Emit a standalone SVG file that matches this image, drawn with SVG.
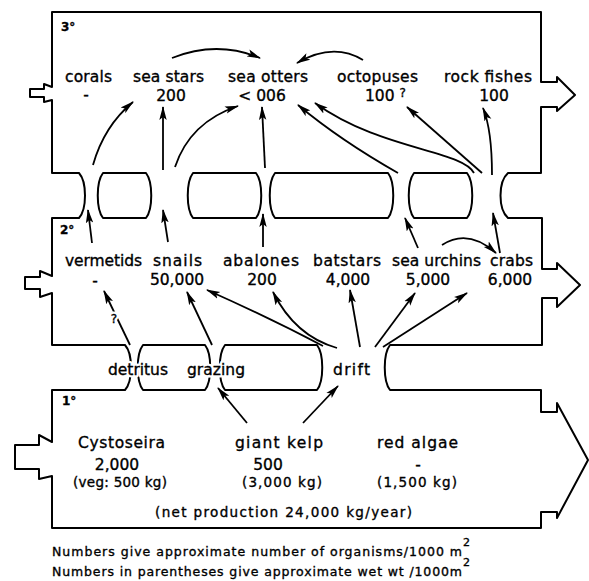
<svg xmlns="http://www.w3.org/2000/svg" width="589" height="581" viewBox="0 0 589 581">
<defs>
<marker id="ah" markerWidth="15" markerHeight="9" refX="13" refY="4.5" orient="auto" markerUnits="userSpaceOnUse">
<path d="M0,0.8 L14,4.5 L0,8.2 L3,4.5 Z" fill="#000"/>
</marker>
<style>
.o{fill:none;stroke:#000;stroke-width:2;stroke-linejoin:round}
.a{fill:none;stroke:#000;stroke-width:1.8;marker-end:url(#ah)}
text{font-family:"DejaVu Sans",sans-serif;font-size:15.5px;fill:#000;stroke:#000;stroke-width:0.35}
.m{text-anchor:middle}
.s{font-size:13.5px}
.lv{font-size:12px;font-weight:bold}
.lg{font-size:12.5px}
.h{fill:#fff;stroke:#fff;stroke-width:5;stroke-linejoin:round}
</style>
</defs>
<rect width="589" height="581" fill="#fff"/>
<g id="compartments">
<path class="o" d="M52,12 H541 V82 H557 V77 L575,95 L557,111 V107 H541 V173 H508 C498,182 498,209 508,218 H542 V269 H557 V263 L580,285 L557,307 V298 H542 V345 H390 C383,354 383,381 390,390 H541 V412 H557 V403 L588,460 L557,518 V512 H541 V528 H52 V476 L39,479 V469 H15 V445 H39 V435 L52,442 V390 H125 C133,381 133,354 125,345 H52 V293 L40,297 V289 H25 V277 H40 V271 L52,276 V218 H79 C87,209 87,182 79,173 H52 V100 L44,102 V97 H30 V89 H44 V84 L52,87 Z"/>
<path class="o" d="M103,173 H146 C153,182 153,209 146,218 H103 C96,209 96,182 103,173 Z"/>
<path class="o" d="M193,173 H256 C263,182 263,209 256,218 H193 C186,209 186,182 193,173 Z"/>
<path class="o" d="M275,173 H388 C395,182 395,209 388,218 H275 C268,209 268,182 275,173 Z"/>
<path class="o" d="M414,173 H467 C474,182 474,209 467,218 H414 C407,209 407,182 414,173 Z"/>
<path class="o" d="M143,345 H205 C212,354 212,381 205,390 H143 C136,381 136,354 143,345 Z"/>
<path class="o" d="M225,345 H317 C324,354 324,381 317,390 H225 C218,381 218,354 225,345 Z"/>
<text class="lv" x="61" y="31">3°</text>
<text class="lv" x="60" y="234">2°</text>
<text class="lv" x="62" y="405">1°</text>
</g>
<g id="connectors">
<path class="a" d="M172,58 Q217,40 260,58"/>
<path class="a" d="M363,60 Q333,42 297,63"/>
<path class="a" d="M93,165 Q104,126 133,102"/>
<path class="a" d="M163,170 L163,107"/>
<path class="a" d="M175,167 Q190,122 238,106"/>
<path class="a" d="M265,168 L262,107"/>
<path class="a" d="M398,173 Q340,140 298,105"/>
<path class="a" d="M474,173 C462,150 380,150 315,103"/>
<path class="a" d="M482,173 L407,107"/>
<path class="a" d="M492,175 Q492,130 483,108"/>
<path class="a" d="M92,243 L88,210"/>
<path class="a" d="M168,242 L163,210"/>
<path class="a" d="M263,247 L263,214"/>
<path class="a" d="M418,248 L405,218"/>
<path class="a" d="M500,253 L493,213"/>
<path class="a" d="M442,245 Q468,228 496,253"/>
<path class="a" d="M130,345 L104,291"/>
<path class="a" d="M212,345 L187,292"/>
<path class="a" d="M323,346 Q270,318 207,290"/>
<path class="a" d="M337,348 Q295,336 273,292"/>
<path class="a" d="M360,347 L350,290"/>
<path class="a" d="M375,347 L415,293"/>
<path class="a" d="M383,347 L467,293"/>
<path class="a" d="M247,423 L218,388"/>
<path class="a" d="M303,423 L338,386"/>
<text class="h m" x="114" y="323" style="font-size:12px">?</text>
<text class="m" x="114" y="323" style="font-size:12px">?</text>
</g>
<g id="corals"><text x="65" y="82" textLength="47">corals</text><text class="m" x="86" y="100">-</text></g>
<g id="sea-stars"><text x="133" y="82" textLength="71">sea stars</text><text class="m" x="171" y="101">200</text></g>
<g id="sea-otters"><text x="228" y="82" textLength="80">sea otters</text><text class="m" x="262" y="101">&lt; 006</text></g>
<g id="octopuses"><text x="365" y="101">100 <tspan font-size="12" dy="-4">?</tspan></text><text x="337" y="82" textLength="81">octopuses</text></g>
<g id="rock-fishes"><text x="444" y="82" textLength="88">rock fishes</text><text class="m" x="494" y="101">100</text></g>
<g id="vermetids"><text x="65" y="266" textLength="77">vermetids</text><text class="m" x="95" y="286">-</text></g>
<g id="snails"><text x="153" y="266" textLength="49">snails</text><text class="m" x="177" y="285">50,000</text></g>
<g id="abalones"><text x="223" y="266" textLength="76">abalones</text><text class="m" x="262" y="285">200</text></g>
<g id="batstars"><text x="313" y="266" textLength="68">batstars</text><text class="m" x="348" y="285">4,000</text></g>
<g id="sea-urchins"><text x="392" y="266" textLength="89">sea urchins</text><text class="m" x="428" y="285">5,000</text></g>
<g id="crabs"><text x="490" y="266" textLength="43">crabs</text><text class="m" x="510" y="285">6,000</text></g>
<g id="detritus"><text class="h" x="108" y="375" textLength="60">detritus</text><text x="108" y="375" textLength="60">detritus</text></g>
<g id="grazing"><text class="h" x="187" y="375" textLength="58">grazing</text><text x="187" y="375" textLength="58">grazing</text></g>
<g id="drift"><text x="333" y="375" textLength="37">drift</text></g>
<g id="cystoseira"><text x="78" y="448" textLength="87">Cystoseira</text><text class="m" x="117" y="470">2,000</text><text class="s" x="73" y="487" textLength="94">(veg: 500 kg)</text></g>
<g id="giant-kelp"><text x="235" y="448" textLength="88">giant kelp</text><text class="m" x="268" y="470">500</text><text class="s" x="242" y="487" textLength="80">(3,000 kg)</text></g>
<g id="red-algae"><text x="377" y="448" textLength="81">red algae</text><text class="m" x="418" y="470">-</text><text class="s" x="377" y="487" textLength="80">(1,500 kg)</text></g>
<g id="net-production"><text class="s" x="155" y="517" textLength="257">(net production  24,000 kg/year)</text></g>
<g id="legend">
<text class="lg" x="52" y="556" textLength="410">Numbers give approximate number of organisms/1000 m</text>
<text x="463" y="546" style="font-size:11px">2</text>
<text class="lg" x="52" y="576" textLength="410">Numbers in parentheses give approximate wet wt /1000m</text>
<text x="463" y="566" style="font-size:11px">2</text>
</g>
</svg>
